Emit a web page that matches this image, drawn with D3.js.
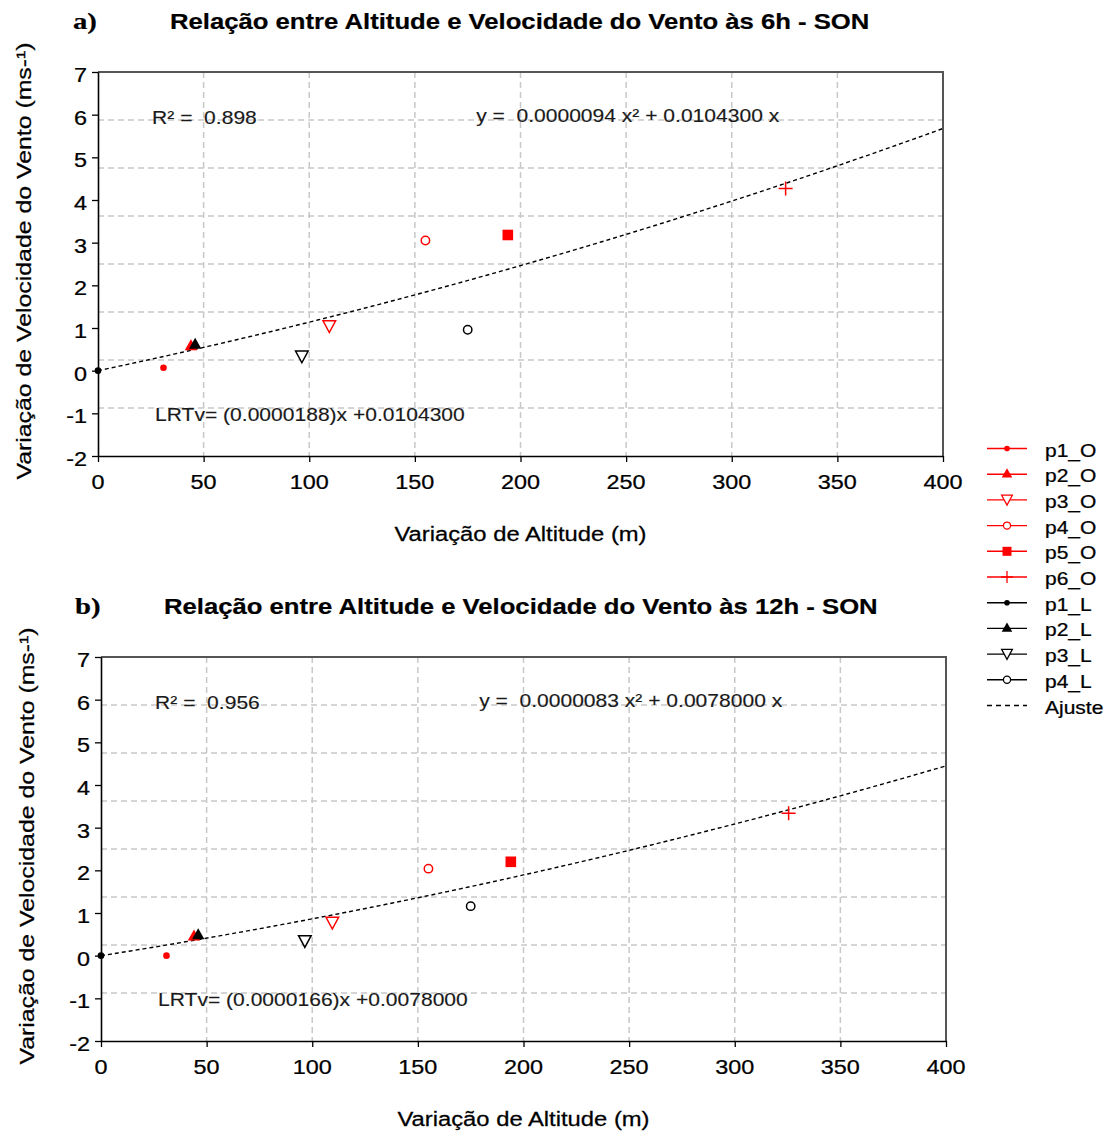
<!DOCTYPE html>
<html>
<head>
<meta charset="utf-8">
<script src="https://cdn.jsdelivr.net/npm/d3@7"></script>
<style>
  html, body { margin: 0; padding: 0; background: #fff; }
  svg { display: block; }
  text { white-space: pre; }
</style>
</head>
<body>
<svg id="chart" width="1107" height="1131"></svg>
<script>
// ---------------- DATA ----------------
const seriesNames = ["p1_O", "p2_O", "p3_O", "p4_O", "p5_O", "p6_O", "p1_L", "p2_L", "p3_L", "p4_L"];
const altitudeChange = [31, 44, 109.5, 155, 194, 325.5, 0, 46, 96.5, 175];
const windChange6h  = [0.07, 0.57, 1.04, 3.05, 3.18, 4.27, 0, 0.61, 0.33, 0.96];
const windChange12h = [0.00, 0.45, 0.77, 2.04, 2.20, 3.34, 0, 0.48, 0.34, 1.16];
const fitCoefs6h  = [0.0000094, 0.0104300];
const fitCoefs12h = [0.0000083, 0.0078000];
const xTicks = [0, 50, 100, 150, 200, 250, 300, 350, 400];
const yTicks = [-2, -1, 0, 1, 2, 3, 4, 5, 6, 7];
const panelTags = ["a)", "b)"];
const panelTitles = [
  "Relação entre Altitude e Velocidade do Vento às 6h - SON",
  "Relação entre Altitude e Velocidade do Vento às 12h - SON"
];
const r2Labels = ["R² =  0.898", "R² =  0.956"];
const eqLabels = ["y =  0.0000094 x² + 0.0104300 x", "y =  0.0000083 x² + 0.0078000 x"];
const lrtLabels = ["LRTv= (0.0000188)x +0.0104300", "LRTv= (0.0000166)x +0.0078000"];
const xTitle = "Variação de Altitude (m)";
const yTitle = "Variação de Velocidade do Vento (ms-¹)";
const fitLegendLabel = "Ajuste";

// ---------------- STYLE ----------------
const markerTypes = ["dot", "tri", "dtri", "ocirc", "square", "plus", "dot", "tri", "dtri", "ocirc"];
const markerColors = ["#ff0000", "#ff0000", "#ff0000", "#ff0000", "#ff0000", "#ff0000", "#000", "#000", "#000", "#000"];
const SANS = "'Liberation Sans', Arial, sans-serif";
const SERIF = "'Liberation Serif', 'Times New Roman', serif";
const TXT = "#000";
const SX = 1.2; // horizontal glyph widening seen in the reference

const svg = d3.select("#chart");
svg.append("rect").attr("width", 1107).attr("height", 1131).attr("fill", "#fff");

function txt(g, x, y, s, o = {}) {
  return g.append("text")
    .attr("transform", `translate(${x},${y}) rotate(${o.rot || 0}) scale(${o.sx || SX},1)`)
    .attr("text-anchor", o.anchor || "start")
    .attr("fill", o.fill || TXT)
    .attr("stroke", o.fill || TXT)
    .attr("stroke-width", o.sw || 0.25)
    .style("font-family", o.family || SANS)
    .style("font-size", (o.size || 18) + "px")
    .style("font-weight", o.weight || "normal")
    .text(s);
}

function drawMarker(g, type, color, cx, cy, k = 1) {
  const m = g.append("g").attr("transform", `translate(${cx},${cy}) scale(${k})`);
  switch (type) {
    case "dot":
      m.append("circle").attr("r", 3.3).attr("fill", color); break;
    case "tri":
      m.append("path").attr("d", "M0,-7L6.2,4L-6.2,4Z").attr("fill", color); break;
    case "dtri":
      m.append("path").attr("d", "M-6.3,-5.5L6.3,-5.5L0,6.2Z").attr("fill", "#fff")
        .attr("stroke", color).attr("stroke-width", 1.5); break;
    case "ocirc":
      m.append("circle").attr("r", 4.2).attr("fill", "#fff").attr("stroke", color).attr("stroke-width", 1.5); break;
    case "square":
      m.append("rect").attr("x", -5.3).attr("y", -5.3).attr("width", 10.6).attr("height", 10.6).attr("fill", color); break;
    case "plus":
      m.append("path").attr("d", "M-7,0H7M0,-7V7").attr("stroke", color).attr("stroke-width", 1.5).attr("fill", "none"); break;
  }
  return m;
}

const panels = [
  { left: 98, top: 72, tagX: 73, titleX: 170, titleY: 29, windValues: windChange6h, coefs: fitCoefs6h },
  { left: 101, top: 657, tagX: 75, titleX: 164, titleY: 614, windValues: windChange12h, coefs: fitCoefs12h }
];
const plotW = 845, plotH = 384;

panels.forEach((p, i) => {
  const g = svg.append("g");
  const x = d3.scaleLinear().domain([0, 400]).range([p.left, p.left + plotW]);
  const y = d3.scaleLinear().domain([-2, 7]).range([p.top + plotH, p.top]);

  // Title
  txt(g, p.tagX, p.titleY, panelTags[i], { family: SERIF, size: 23, weight: "bold", sx: 1.25, sw: 0.2 });
  txt(g, p.titleX, p.titleY, panelTitles[i], { size: 21.4, weight: "bold", sw: 0.2 });

  // Grid (8 equal divisions vertically, ticks horizontally)
  const gridG = g.append("g").attr("stroke", "#c8c8c8").attr("stroke-width", 1.5)
    .attr("stroke-dasharray", "6,4").attr("fill", "none");
  d3.range(1, 8).forEach(k => {
    const v = -2 + k * 9 / 8;
    gridG.append("line").attr("x1", x(0)).attr("x2", x(400)).attr("y1", y(v)).attr("y2", y(v));
  });
  xTicks.slice(1, -1).forEach(t => {
    gridG.append("line").attr("x1", x(t)).attr("x2", x(t)).attr("y1", y(7)).attr("y2", y(-2));
  });

  // Fit curve
  const fx = d3.range(0, 400.1, 2);
  const line = d3.line().x(d => x(d)).y(d => y(p.coefs[0] * d * d + p.coefs[1] * d));
  g.append("path").datum(fx).attr("d", line).attr("fill", "none")
    .attr("stroke", "#000").attr("stroke-width", 1.4).attr("stroke-dasharray", "4,3");

  // Points
  seriesNames.forEach((name, j) => {
    drawMarker(g, markerTypes[j], markerColors[j], x(altitudeChange[j]), y(p.windValues[j]));
  });

  // Frame: top/right border
  g.append("path").attr("d", `M${x(0)},${y(7)}H${x(400)}V${y(-2)}`)
    .attr("fill", "none").attr("stroke", "#555").attr("stroke-width", 2);

  // Axes
  const ax = g.append("g").attr("transform", `translate(0,${y(-2)})`)
    .call(d3.axisBottom(x).tickValues(xTicks).tickSize(6).tickSizeOuter(0).tickFormat(""));
  const ay = g.append("g").attr("transform", `translate(${x(0)},0)`)
    .call(d3.axisLeft(y).tickValues(yTicks).tickSize(6).tickSizeOuter(0).tickFormat(""));
  [ax, ay].forEach(a => {
    a.select(".domain").attr("stroke", "#000").attr("stroke-width", 1.6);
    a.selectAll(".tick line").attr("stroke", "#000").attr("stroke-width", 1.3);
  });
  // Tick labels
  xTicks.forEach(t => txt(g, x(t), y(-2) + 33, String(t), { anchor: "middle", size: 19.5, sx: 1.2 }));
  yTicks.forEach(t => txt(g, x(0) - 11, y(t) + 10, String(t), { anchor: "end", size: 19.5, sx: 1.2 }));

  // Axis titles
  txt(g, x(0) + plotW / 2 - 0, y(-2) + 85, xTitle, { anchor: "middle", size: 20, sx: 1.19 });
  txt(g, 31 + (i ? 3 : 0), p.top + plotH / 2 - 3, yTitle, { anchor: "middle", size: 20.7, rot: -90, sx: 1.2 });

  // Annotations
  txt(g, x(25.6), y(7) + 52, r2Labels[i], { size: 18, sx: 1.17, fill: "#1a1a1a", sw: 0.15 });
  txt(g, x(179), y(7) + 50, eqLabels[i], { size: 18, sx: 1.17, fill: "#1a1a1a", sw: 0.15 });
  txt(g, x(27), y(7) + 349, lrtLabels[i], { size: 18, sx: 1.17, fill: "#1a1a1a", sw: 0.15 });
});

// ---------------- LEGEND ----------------
const lg = svg.append("g");
const legX0 = 987, legX1 = 1027, legTextX = 1045, legY0 = 448.5, legStep = 25.7;
seriesNames.forEach((name, j) => {
  const yy = legY0 + j * legStep;
  lg.append("line").attr("x1", legX0).attr("x2", legX1).attr("y1", yy).attr("y2", yy)
    .attr("stroke", markerColors[j]).attr("stroke-width", 1.4);
  drawMarker(lg, markerTypes[j], markerColors[j], (legX0 + legX1) / 2, yy, 0.85);
  txt(lg, legTextX, yy + 8, name, { size: 17.5, sx: 1.2 });
});
{
  const yy = legY0 + seriesNames.length * legStep;
  lg.append("line").attr("x1", legX0).attr("x2", legX1).attr("y1", yy).attr("y2", yy)
    .attr("stroke", "#000").attr("stroke-width", 1.4).attr("stroke-dasharray", "5,4");
  txt(lg, legTextX, yy + 8, fitLegendLabel, { size: 17.5, sx: 1.2 });
}
</script>
</body>
</html>
